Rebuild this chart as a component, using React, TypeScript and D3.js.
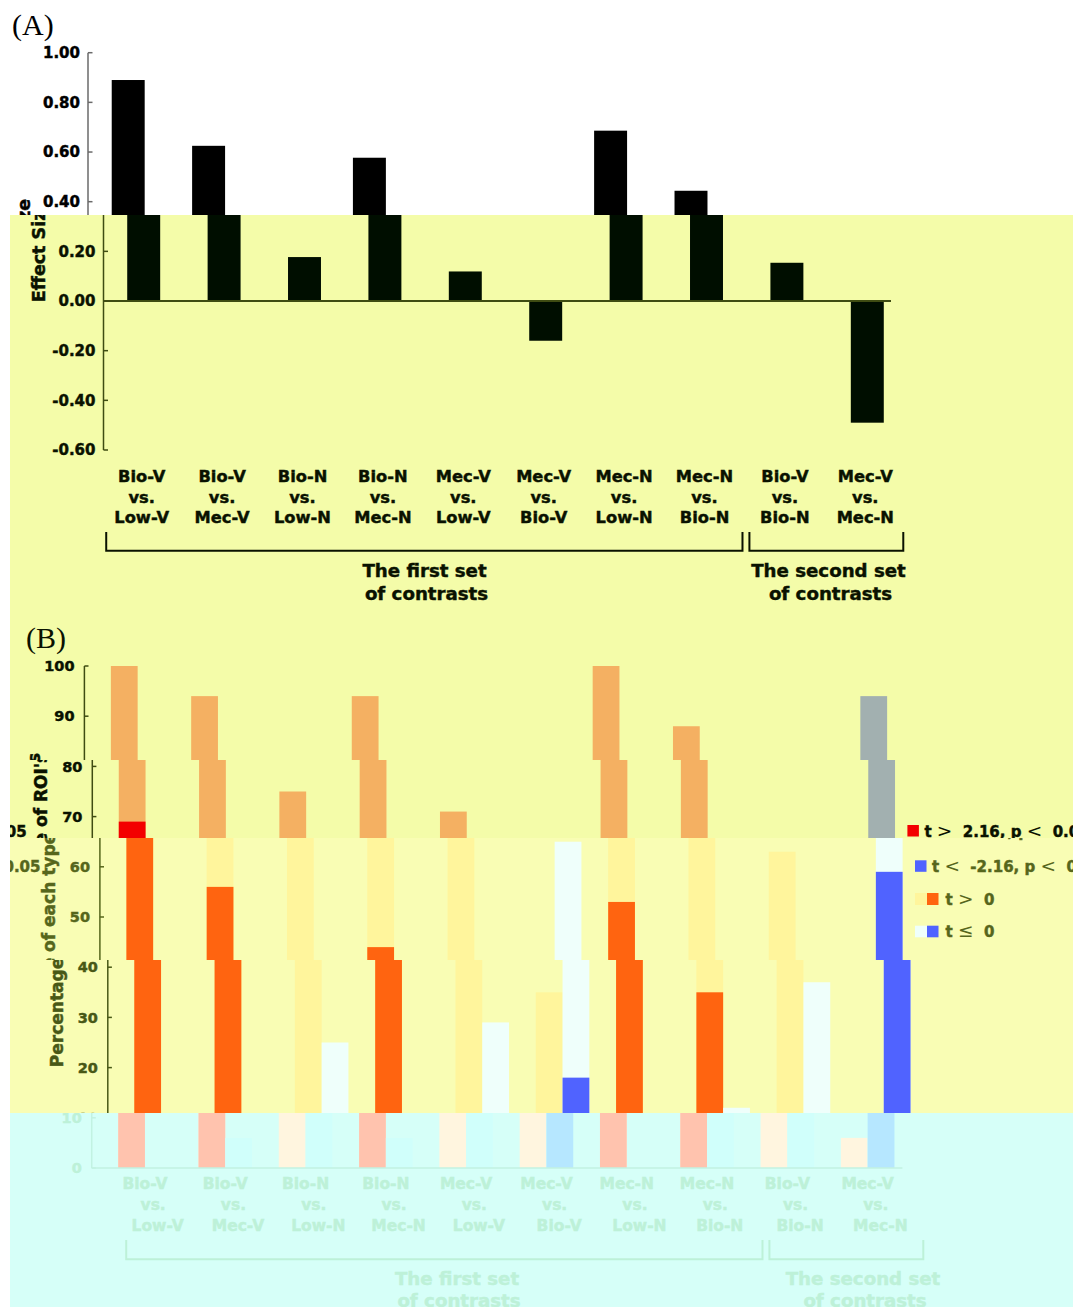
import React from "react";
import * as d3 from "d3";

// contrast labels (three lines each)
const contrastTop = ["Bio-V", "Bio-V", "Bio-N", "Bio-N", "Mec-V", "Mec-V", "Mec-N", "Mec-N", "Bio-V", "Mec-V"];
const contrastBottom = ["Low-V", "Mec-V", "Low-N", "Mec-N", "Low-V", "Bio-V", "Low-N", "Bio-N", "Bio-N", "Mec-N"];

// panel A: effect size per contrast
const effectSize = [0.89, 0.625, 0.177, 0.577, 0.119, -0.16, 0.686, 0.444, 0.154, -0.49];
const yTicksA = [1.0, 0.8, 0.6, 0.4, 0.2, 0.0, -0.2, -0.4, -0.6];

// panel B: percentage of ROIs
const posPct = [100, 94, 75, 94, 71, 35, 100, 88, 63, 6];
const posSigPct = [69, 56, 0, 44, 0, 0, 53, 35, 0, 0];
const negPct = [0, 6, 25, 6, 29, 65, 0, 12, 37, 94];
const negSigPct = [0, 0, 0, 0, 0, 18, 0, 0, 0, 59];
const yTicksB = [0, 10, 20, 30, 40, 50, 60, 70, 80, 90, 100];

const groups = [
  { from: 0, to: 7, lines: ["The first set", "of contrasts"] },
  { from: 8, to: 9, lines: ["The second set", "of contrasts"] },
];

const W = 1073;
const H = 1307;
const WRAP = 1063;
const SANS = "'DejaVu Sans', sans-serif";

type Pal = {
  bg: string; ink: string; axis: string; barA: string;
  posLight: string; posDark: string; negLight: string; negDark: string;
};

const palWhite: Pal = { bg: "#ffffff", ink: "#000000", axis: "#6a6a6a", barA: "#000000",
  posLight: "#fff59c", posDark: "#ff6410", negLight: "#f0fffa", negDark: "#5063ff" };
const palYellow: Pal = { bg: "#f4fca9", ink: "#0a1200", axis: "#3f4c12", barA: "#000e00",
  posLight: "#f4b062", posDark: "#f30000", negLight: "#a2b0b0", negDark: "#4050d0" };
const palPale: Pal = { bg: "#f9fdb4", ink: "#56661c", axis: "#56661c", barA: "#000e00",
  posLight: "#fff59c", posDark: "#ff6410", negLight: "#effffb", negDark: "#5063ff" };
const palPale2: Pal = { ...palPale, ink: "#485816", axis: "#485816" };
const palCyan: Pal = { bg: "#d6fff8", ink: "#bdf1d8", axis: "#c2f2e2", barA: "#c2f2e2",
  posLight: "#fff5df", posDark: "#ffc3ae", negLight: "#d0fffb", negDark: "#b6e7ff" };

const bands = [
  { y0: 0, y1: 215, dx: 0, x0: 0, pal: palWhite },
  { y0: 215, y1: 760, dx: 15.5, x0: 10, pal: palYellow },
  { y0: 760, y1: 838, dx: 23.4, x0: 10, pal: palYellow },
  { y0: 838, y1: 960, dx: 31, x0: 10, pal: palPale },
  { y0: 960, y1: 1113, dx: 38.9, x0: 10, pal: palPale2 },
  { y0: 1113, y1: 1192, dx: 22.8, x0: 10, pal: palCyan },
  { y0: 1192, y1: 1214, dx: 31, x0: 10, pal: palCyan },
  { y0: 1214, y1: 1262, dx: 35.5, x0: 10, pal: palCyan },
  { y0: 1262, y1: 1307, dx: 42, x0: 10, pal: palCyan },
];

// scales (figure coordinates before the band shifts)
const idx = d3.range(10);
const xA = d3.scaleBand<number>().domain(idx).range([88, 892]).paddingInner(0.59).paddingOuter(0.295);
const yA = d3.scaleLinear().domain([-0.6, 1]).range([450, 52.7]);
const xB = d3.scaleBand<number>().domain(idx).range([82, 885]).paddingInner(0.333).paddingOuter(0.1665);
const sideB = d3.scaleBand<string>().domain(["pos", "neg"]).range([0, xB.bandwidth()]);
const yB = d3.scaleLinear().domain([0, 100]).range([1168, 666]);

const Bracket = ({ x1, x2, y1, y2, p }: { x1: number; x2: number; y1: number; y2: number; p: Pal }) => (
  <path d={`M${x1},${y1}V${y2}H${x2}V${y1}`} fill="none" stroke={p.ink} strokeWidth={2} />
);

// thin relational symbol inside a bold legend line
const Rel = ({ s }: { s: string }) => (
  <tspan fontWeight={400} strokeWidth={0} fontSize={18.5}>{s}</tspan>
);

const Figure = ({ p }: { p: Pal }) => {
  const yA0 = yA(0);
  const yB0 = yB(0);
  const bw = sideB.bandwidth();
  const bracketX = (g: { from: number; to: number }) => [
    (xA(g.from) as number) - 21, (xA(g.to) as number) + xA.bandwidth() + 19.5,
  ];
  const heavy = { stroke: p.ink, strokeWidth: 0.45 };
  return (
    <g fontFamily={SANS} fontWeight={700}>
      {/* ---------- panel A ---------- */}
      <text x={12} y={35} fontFamily="'Liberation Serif', serif" fontWeight={400} fontSize={30} fill={p.ink}>(A)</text>
      <text transform="translate(29.5,250.5) rotate(-90)" textAnchor="middle" fontSize={17.5} fill={p.ink} {...heavy}>Effect Size</text>
      {effectSize.map((v, i) => (
        <rect key={i} x={xA(i)} width={xA.bandwidth()} y={yA(Math.max(0, v))}
          height={Math.abs(yA(v) - yA0)} fill={p.barA} />
      ))}
      <line x1={88} x2={88} y1={yA(1)} y2={yA(-0.6)} stroke={p.axis} strokeWidth={1.5} />
      {yTicksA.map((v) => (
        <g key={v}>
          <line x1={88} x2={92.5} y1={yA(v)} y2={yA(v)} stroke={p.axis} strokeWidth={1.5} />
          <text x={80} y={yA(v)} dy="0.36em" textAnchor="end" fontSize={15} fill={p.ink} {...heavy}>{v.toFixed(2)}</text>
        </g>
      ))}
      <line x1={88} x2={875.5} y1={yA0} y2={yA0} stroke={p.axis} strokeWidth={2} />
      {idx.map((i) => {
        const cx = (xA(i) as number) + xA.bandwidth() / 2 - 2;
        return (
          <text key={i} textAnchor="middle" fontSize={16.3} fill={p.ink} {...heavy}>
            <tspan x={cx} y={482}>{contrastTop[i]}</tspan>
            <tspan x={cx} y={502.5}>vs.</tspan>
            <tspan x={cx} y={523}>{contrastBottom[i]}</tspan>
          </text>
        );
      })}
      {groups.map((g, k) => {
        const [bx1, bx2] = bracketX(g);
        const cx = k === 0 ? 409 : 813;
        return (
          <g key={k}>
            <Bracket x1={bx1} x2={bx2} y1={532} y2={550.7} p={p} />
            <text textAnchor="middle" fontSize={18.2} fill={p.ink} {...heavy}>
              <tspan x={cx} y={577}>{g.lines[0]}</tspan>
              <tspan x={cx + 2} y={600}>{g.lines[1]}</tspan>
            </text>
          </g>
        );
      })}

      {/* ---------- panel B ---------- */}
      <text x={10.5} y={648} fontFamily="'Liberation Serif', serif" fontWeight={400} fontSize={30} fill={p.ink}>(B)</text>
      <text transform="translate(24,910) rotate(-90)" textAnchor="middle" fontSize={17} fill={p.ink} {...heavy}>Percentage of each type of ROI's</text>
      {idx.map((i) => {
        const x0 = xB(i) as number;
        const xp = x0 + (sideB("pos") as number);
        const xn = x0 + (sideB("neg") as number);
        return (
          <g key={i}>
            {posPct[i] > 0 && <rect x={xp} width={bw} y={yB(posPct[i])} height={yB0 - yB(posPct[i])} fill={p.posLight} />}
            {posSigPct[i] > 0 && <rect x={xp} width={bw} y={yB(posSigPct[i])} height={yB0 - yB(posSigPct[i])} fill={p.posDark} />}
            {negPct[i] > 0 && <rect x={xn} width={bw} y={yB(negPct[i])} height={yB0 - yB(negPct[i])} fill={p.negLight} />}
            {negSigPct[i] > 0 && <rect x={xn} width={bw} y={yB(negSigPct[i])} height={yB0 - yB(negSigPct[i])} fill={p.negDark} />}
          </g>
        );
      })}
      <line x1={68.9} x2={68.9} y1={yB(100)} y2={yB0} stroke={p.axis} strokeWidth={1.5} />
      {yTicksB.map((v) => (
        <g key={v}>
          <line x1={68.9} x2={73} y1={yB(v)} y2={yB(v)} stroke={p.axis} strokeWidth={1.5} />
          <text x={59} y={yB(v)} dy="0.36em" textAnchor="end" fontSize={14.5} fill={p.ink} {...heavy}>{v}</text>
        </g>
      ))}
      <line x1={68.9} x2={879.6} y1={yB0} y2={yB0} stroke={p.axis} strokeWidth={1.5} />
      {idx.map((i) => {
        const cx = (xB(i) as number) + xB.bandwidth() / 2;
        return (
          <text key={i} textAnchor="middle" fontSize={15.5} fill={p.ink} {...heavy}>
            <tspan x={cx} y={1189}>{contrastTop[i]}</tspan>
            <tspan x={cx} y={1209.5}>vs.</tspan>
            <tspan x={cx} y={1230.5}>{contrastBottom[i]}</tspan>
          </text>
        );
      })}
      {groups.map((g, k) => {
        const [bx1, bx2] = bracketX(g);
        const cx = k === 0 ? 415 : 821;
        return (
          <g key={k}>
            <Bracket x1={bx1} x2={bx2} y1={1240} y2={1259.3} p={p} />
            <text textAnchor="middle" fontSize={18.2} fill={p.ink} {...heavy}>
              <tspan x={cx} y={1285}>{g.lines[0]}</tspan>
              <tspan x={cx + 2} y={1307}>{g.lines[1]}</tspan>
            </text>
          </g>
        );
      })}

      {/* legend */}
      <g fontSize={15} fill={p.ink}>
        <rect x={884} y={825} width={11.5} height={11.5} fill={p.posDark} />
        <text x={901} y={836.5} xmlSpace="preserve" {...heavy}>t <Rel s=">" />  2.16, p <Rel s="<" />  0.05</text>
        <rect x={884} y={860.3} width={11.5} height={11.5} fill={p.negDark} />
        <text x={901} y={871.7} xmlSpace="preserve" {...heavy}>t <Rel s="<" />  -2.16, p <Rel s="<" />  0.05</text>
        <rect x={884} y={893} width={12} height={12} fill={p.posLight} />
        <rect x={896} y={893} width={11.5} height={12} fill={p.posDark} />
        <text x={914.6} y={905} xmlSpace="preserve" {...heavy}>t <Rel s=">" />  0</text>
        <rect x={884} y={925.7} width={12} height={11.6} fill={p.negLight} />
        <rect x={896} y={925.7} width={11.5} height={11.6} fill={p.negDark} />
        <text x={914.6} y={937.3} xmlSpace="preserve" {...heavy}>t <Rel s="≤" />  0</text>
      </g>
    </g>
  );
};

export default function App() {
  return (
    <svg width={W} height={H} viewBox={`0 0 ${W} ${H}`}
      style={{ position: "absolute", left: 0, top: 0, display: "block", background: "#ffffff" }}>
      <defs>
        {bands.map((b, k) => (
          <clipPath key={k} id={`band${k}`}>
            <rect x={b.x0} y={b.y0} width={W - b.x0} height={b.y1 - b.y0} />
          </clipPath>
        ))}
      </defs>
      {bands.map((b, k) => (
        <g key={k} clipPath={`url(#band${k})`}>
          <rect x={b.x0} y={b.y0} width={W - b.x0} height={b.y1 - b.y0} fill={b.pal.bg} />
          <g transform={`translate(${b.dx},0)`}><Figure p={b.pal} /></g>
          {b.x0 > 0 && <g transform={`translate(${b.dx - WRAP},0)`}><Figure p={b.pal} /></g>}
        </g>
      ))}
    </svg>
  );
}
